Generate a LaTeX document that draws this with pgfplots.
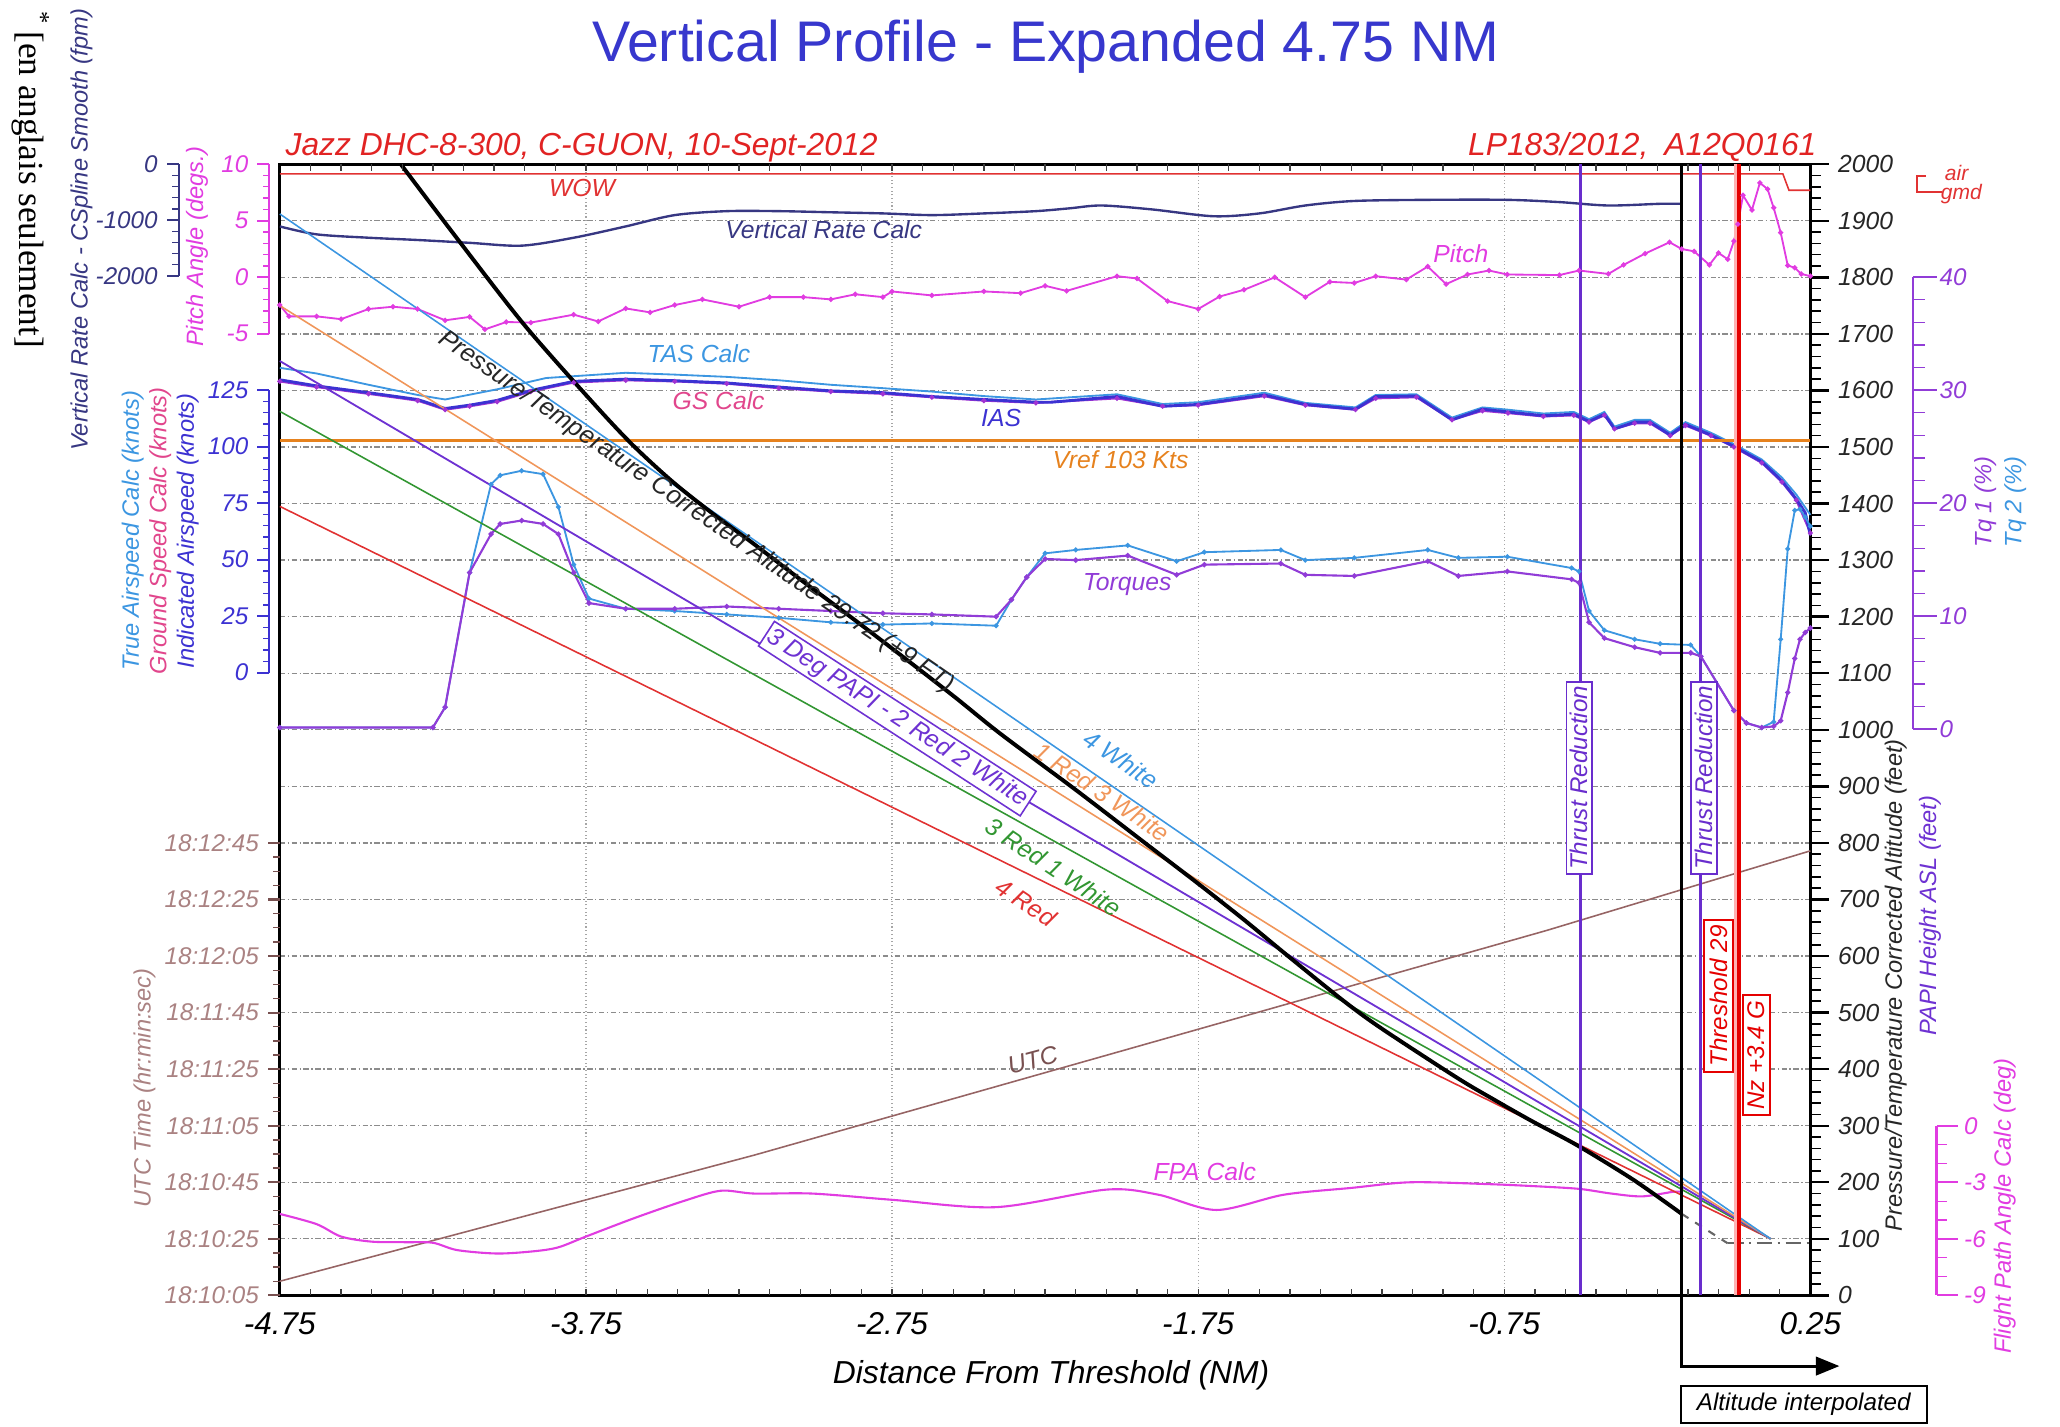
\documentclass[border=0pt]{standalone}
\usepackage{pgfplots}
\pgfplotsset{compat=1.18}
\usepackage{pgfplotstable}
\usepackage{fontspec}
\setmainfont{Liberation Sans}
\newfontfamily\serifft{Liberation Serif}
\usetikzlibrary{arrows.meta}

\definecolor{ttl}{RGB}{55,55,205}
\definecolor{sub}{RGB}{225,35,35}
\definecolor{vrc}{RGB}{55,55,130}
\definecolor{pit}{RGB}{225,60,225}
\definecolor{tas}{RGB}{60,150,225}
\definecolor{gsc}{RGB}{225,70,140}
\definecolor{ias}{RGB}{60,50,210}
\definecolor{gsl}{RGB}{160,50,210}
\definecolor{vref}{RGB}{230,130,30}
\definecolor{tqa}{RGB}{145,60,215}
\definecolor{tqb}{RGB}{60,150,225}
\definecolor{papw}{RGB}{60,150,225}
\definecolor{papo}{RGB}{240,150,90}
\definecolor{papp}{RGB}{110,50,210}
\definecolor{papg}{RGB}{50,150,50}
\definecolor{papr}{RGB}{225,50,50}
\definecolor{utc}{RGB}{150,100,100}
\definecolor{utct}{RGB}{170,130,130}
\definecolor{thr}{RGB}{105,45,205}
\definecolor{wow}{RGB}{225,50,50}

\newcommand\fs[1]{\fontsize{#1}{#1}\selectfont\itshape}

% speeds in knots
\pgfplotstableread{
x kt
-4.75 129.7
-4.63 127
-4.46 124
-4.30 121
-4.21 117
-4.13 118.5
-4.04 120.6
-3.93 125
-3.79 129
-3.62 130
-3.46 129.3
-3.29 128.3
-3.12 126.5
-2.95 124.8
-2.78 124
-2.62 122.3
-2.45 121
-2.28 119.8
-2.23 119.8
-2.015 122.3
-1.866 118
-1.75 118.8
-1.534 123
-1.40 118.8
-1.236 116.7
-1.170 122.3
-1.037 122.5
-0.921 112
-0.821 116.7
-0.738 115.5
-0.622 113.8
-0.523 114.5
-0.473 111.3
-0.423 114.5
-0.390 108
-0.324 111
-0.274 111
-0.208 105.3
-0.158 110
-0.075 105.3
0.0 100.3
0.091 93.5
0.157 85
0.204 77
0.233 71
0.25 61
}\tblias

\pgfplotstableread{
x kt
-4.75 129
-4.63 126.5
-4.46 123.5
-4.30 120.5
-4.21 116.5
-4.13 118
-4.04 120
-3.93 124.5
-3.79 128.5
-3.62 129.5
-3.46 129
-3.29 128
-3.12 126
-2.95 124.5
-2.78 123.5
-2.62 122
-2.45 120.5
-2.28 119.5
-2.015 121.5
-1.866 118
-1.75 118.5
-1.534 122.5
-1.40 118.5
-1.236 116.5
-1.17 121.5
-1.037 122
-0.921 112
-0.821 116
-0.738 115
-0.622 113.5
-0.523 114
-0.473 111
-0.423 114
-0.39 108
-0.324 110.5
-0.274 110.5
-0.208 105
-0.158 109.5
-0.075 105
0.0 100
0.091 93
0.157 84.5
0.204 76.5
0.25 62
}\tblgs

\pgfplotstableread{
x kt
-4.75 135
-4.63 132.5
-4.46 127.5
-4.30 123
-4.21 121
-4.04 125.5
-3.88 130.5
-3.62 132.8
-3.46 132
-3.29 131
-3.12 129.5
-2.95 127.5
-2.78 126
-2.62 124.5
-2.45 122.5
-2.28 121
-2.015 123.3
-1.866 119
-1.75 119.8
-1.534 124
-1.40 119.5
-1.236 117.5
-1.17 123
-1.037 123.3
-0.921 113
-0.821 117.5
-0.738 116.5
-0.622 114.8
-0.523 115.5
-0.473 112.3
-0.423 115.5
-0.39 109
-0.324 112
-0.274 112
-0.208 106.3
-0.158 111
-0.075 106.3
0.0 101.3
0.091 94.5
0.157 86.5
0.204 79
0.25 70
}\tbltas

% torques in percent
\pgfplotstableread{
x tqa tqb
-4.75 0.2 0.2
-4.25 0.2 0.2
-4.21 2.0 2.0
-4.13 13.9 13.9
-4.06 17.3 21.7
-4.03 18.2 22.5
-3.96 18.5 22.9
-3.89 18.2 22.6
-3.84 17.3 19.7
-3.79 13.9 14.6
-3.74 11.2 11.6
-3.62 10.7 10.7
-3.46 10.7 10.5
-3.29 10.9 10.2
-3.12 10.7 9.9
-2.95 10.5 9.5
-2.78 10.3 9.3
-2.62 10.2 9.4
-2.41 10.0 9.2
-2.36 11.5 11.5
-2.31 13.5 13.5
-2.25 15.1 15.6
-2.15 15.0 15.9
-1.98 15.4 16.3
-1.82 13.7 14.9
-1.73 14.6 15.7
-1.48 14.7 15.9
-1.40 13.7 15.0
-1.24 13.6 15.2
-1.00 14.9 15.9
-0.90 13.6 15.2
-0.74 14.0 15.3
-0.53 13.3 14.3
-0.506 13.0 14.0
-0.473 9.5 10.5
-0.423 8.1 8.8
-0.324 7.3 8.0
-0.241 6.8 7.6
-0.141 6.8 7.5
-0.108 6.5 6.5
0.0 1.7 1.7
0.041 0.6 0.6
0.091 0.2 0.2
0.13 0.3 0.7
0.153 0.8 8.0
0.176 3.3 16.0
0.199 6.3 19.4
0.216 8.0 19.5
0.233 8.6 18.8
0.25 9.0 18.0
}\tbltq

% pitch in degrees
\pgfplotstableread{
x p
-4.75 -2.45
-4.72 -3.45
-4.63 -3.45
-4.55 -3.7
-4.46 -2.8
-4.38 -2.6
-4.30 -2.8
-4.21 -3.8
-4.13 -3.5
-4.08 -4.6
-4.01 -3.95
-3.93 -4.0
-3.79 -3.3
-3.71 -3.9
-3.62 -2.75
-3.54 -3.1
-3.46 -2.45
-3.37 -1.95
-3.25 -2.6
-3.15 -1.75
-3.04 -1.75
-2.95 -1.95
-2.87 -1.5
-2.78 -1.75
-2.75 -1.25
-2.62 -1.6
-2.45 -1.25
-2.33 -1.4
-2.25 -0.75
-2.18 -1.2
-2.015 0.1
-1.95 -0.1
-1.85 -2.1
-1.75 -2.8
-1.68 -1.7
-1.60 -1.1
-1.50 0.0
-1.40 -1.75
-1.32 -0.4
-1.24 -0.5
-1.17 0.1
-1.07 -0.2
-1.00 0.95
-0.94 -0.6
-0.87 0.25
-0.80 0.6
-0.74 0.25
-0.57 0.2
-0.506 0.6
-0.41 0.3
-0.36 1.1
-0.29 2.1
-0.21 3.1
-0.17 2.5
-0.13 2.3
-0.08 1.1
-0.05 2.15
-0.02 1.6
0.0 3.2
0.013 4.7
0.03 7.25
0.059 5.95
0.085 8.35
0.11 7.8
0.13 6.15
0.153 3.95
0.176 1.05
0.199 0.85
0.22 0.3
0.25 0.1
}\tblpitch

% vertical rate in fpm
\pgfplotstableread{
x vr
-4.75 -1100
-4.63 -1240
-4.46 -1300
-4.30 -1340
-4.13 -1390
-3.96 -1440
-3.79 -1300
-3.62 -1100
-3.46 -900
-3.29 -830
-3.12 -830
-2.95 -850
-2.78 -870
-2.62 -900
-2.45 -870
-2.28 -830
-2.17 -780
-2.065 -730
-1.90 -800
-1.70 -920
-1.55 -870
-1.40 -730
-1.24 -650
-1.00 -630
-0.74 -630
-0.57 -670
-0.41 -730
-0.24 -700
-0.17 -700
}\tblvr

% corrected altitude in feet
\pgfplotstableread{
x alt
-4.355 2000
-4.16 1861
-3.95 1715
-3.73 1580
-3.60 1505
-3.47 1440
-3.34 1384
-3.205 1330
-3.05 1266
-2.874 1195
-2.70 1123
-2.543 1057
-2.396 993
-2.148 893
-1.924 800
-1.75 728
-1.60 664
-1.452 598
-1.278 522
-1.154 473
-0.905 385
-0.78 345
-0.656 307
-0.514 266
-0.33 205
-0.17 144
}\tblalt

% flight path angle in degrees
\pgfplotstableread{
x fpa
-4.75 -4.68
-4.63 -5.22
-4.55 -5.88
-4.45 -6.15
-4.34 -6.18
-4.25 -6.21
-4.17 -6.6
-4.04 -6.78
-3.92 -6.66
-3.84 -6.45
-3.75 -5.88
-3.59 -4.89
-3.43 -3.99
-3.31 -3.45
-3.20 -3.6
-3.01 -3.6
-2.75 -3.93
-2.41 -4.32
-2.05 -3.39
-1.88 -3.66
-1.69 -4.47
-1.47 -3.66
-1.25 -3.3
-1.056 -3.0
-0.80 -3.1
-0.613 -3.24
-0.50 -3.36
-0.40 -3.6
-0.30 -3.75
-0.20 -3.51
-0.17 -3.51
}\tblfpa

% UTC, seconds after 18:10:05
\pgfplotstableread{
x s
-4.75 5
-3.20 49.6
-0.613 129
0.25 157.2
}\tblutc

\begin{document}
\begin{tikzpicture}
\useasboundingbox (-106.5pt,-50pt) rectangle (677.5pt,493pt);
\begin{axis}[
  at={(0pt,0pt)}, anchor=south west,
  width=582.5pt, height=430.5pt, scale only axis,
  xmin=-4.75, xmax=0.25, ymin=0, ymax=2000,
  clip=false,
  axis line style={line width=1.1pt},
  xtick={-4.75,-3.75,-2.75,-1.75,-0.75,0.25},
  xticklabels={-4.75,-3.75,-2.75,-1.75,-0.75,0.25},
  xtick style={draw=none},
  x tick label style={font=\fs{12}, yshift=4pt},
  ytick={0,100,...,2000},
  minor y tick num=4,
  ytick pos=right, yticklabel pos=right,
  tick align=outside,
  major tick length=7pt, minor tick length=4pt,
  major tick style={line width=0.9pt, black},
  minor tick style={line width=0.6pt, black},
  y tick label style={font=\fs{9.4}, text=black!85},
  /pgf/number format/1000 sep={},
  /pgf/number format/assume math mode=true,
  xmajorgrids, ymajorgrids,
  x grid style={densely dotted, black!35, line width=0.5pt},
  y grid style={dash pattern=on 2pt off 1pt on 0.5pt off 1pt, black!45, line width=0.5pt},
]
% WOW
\addplot[wow, line width=0.6pt] coordinates {(-4.75,1983) (0.16,1983) (0.18,1954) (0.25,1954)};
% vertical rate
\addplot[vrc, line width=0.9pt, smooth] table[x=x, y expr={2000+\thisrow{vr}/10}] {\tblvr};
% pitch
\addplot[pit, line width=0.7pt, mark=*, mark size=0.6pt] table[x=x, y expr={1800+20*\thisrow{p}}] {\tblpitch};
% speeds
\addplot[tas, line width=0.7pt] table[x=x, y expr={1100+4*\thisrow{kt}}] {\tbltas};
\addplot[gsl, line width=0.8pt, mark=*, mark size=0.5pt] table[x=x, y expr={1100+4*\thisrow{kt}}] {\tblgs};
\addplot[ias, line width=1.1pt] table[x=x, y expr={1100+4*\thisrow{kt}}] {\tblias};
% Vref 103 kt
\addplot[vref, line width=1.3pt] coordinates {(-4.75,1512) (0.25,1512)};
% torques
\addplot[tqb, line width=0.7pt, mark=*, mark size=0.55pt] table[x=x, y expr={1000+20*\thisrow{tqb}}] {\tbltq};
\addplot[tqa, line width=0.8pt, mark=*, mark size=0.55pt] table[x=x, y expr={1000+20*\thisrow{tqa}}] {\tbltq};
% UTC
\addplot[utc, line width=0.6pt] table[x=x, y expr={5*\thisrow{s}}] {\tblutc};
% FPA
\addplot[pit, line width=0.8pt, smooth] table[x=x, y expr={300+100/3*\thisrow{fpa}}] {\tblfpa};
% PAPI lines
\addplot[papr, line width=0.6pt] coordinates {(-4.75,1395) (0.12,100)};
\addplot[papg, line width=0.6pt] coordinates {(-4.75,1563) (0.12,100)};
\addplot[papp, line width=0.7pt] coordinates {(-4.75,1652) (0.12,100)};
\addplot[papo, line width=0.6pt] coordinates {(-4.75,1750) (0.12,100)};
\addplot[papw, line width=0.6pt] coordinates {(-4.75,1912) (0.12,100)};
% altitude
\addplot[black, line width=1.5pt, smooth, tension=0.5] table[x=x, y=alt] {\tblalt};
\addplot[black!60, dashed, line width=0.8pt] coordinates {(-0.17,144) (-0.02,92)};
\addplot[black!60, dash pattern=on 6pt off 2pt on 1pt off 2pt, line width=0.8pt] coordinates {(-0.02,92) (0.25,92)};
% event lines
\addplot[thr, line width=1.1pt] coordinates {(-0.50,0) (-0.50,2000)};
\addplot[thr, line width=1.1pt] coordinates {(-0.11,0) (-0.11,2000)};
\addplot[red!30, line width=2.6pt] coordinates {(0.010,0) (0.010,2000)};
\addplot[red!90!black, line width=1.5pt] coordinates {(0.016,0) (0.016,2000)};
\addplot[black, line width=1.2pt, -{Triangle[length=9pt,width=7pt]}] coordinates {(-0.17,2000) (-0.17,-125) (0.345,-125)};
\end{axis}

\begin{scope}[x=0.5pt,y=-0.5pt,shift={(-106.5pt,493pt)}]
% minor x ticks
\foreach \i in {1,...,49} {
  \draw[black!75, line width=0.5pt] ({213+23.3*\i},986) -- ++(0,-5);
  \draw[black!75, line width=0.5pt] ({213+23.3*\i},125) -- ++(0,5);
}
% title and subtitles
\node[anchor=base, text=ttl, font=\fontsize{21.8}{22}\selectfont] at (796,47) {Vertical Profile - Expanded 4.75 NM};
\node[anchor=base west, text=sub, font=\fs{12.1}, inner sep=0pt] at (217,118) {Jazz DHC-8-300, C-GUON, 10-Sept-2012};
\node[anchor=base east, text=sub, font=\fs{12.1}, inner sep=0pt] at (1383,118) {LP183/2012,\enspace A12Q0161};
\node[font=\fs{12.1}] at (800,1047) {Distance From Threshold (NM)};
% side note
\node[rotate=-90, font=\serifft\fontsize{13.4}{14}\selectfont, inner sep=0pt] at (23,137) {\textsuperscript{*}\,[en anglais seulement]};

% VR axis
\draw[vrc, line width=0.8pt] (136,125) -- (136,210);
\foreach \k in {0,1,2} \draw[vrc, line width=0.8pt] (136,{125+42.5*\k}) -- (127,{125+42.5*\k});
\foreach \k in {1,2,3,4,6,7,8,9} \draw[vrc, line width=0.5pt] (136,{125+8.5*\k}) -- (131,{125+8.5*\k});
\node[anchor=east, text=vrc, font=\fs{9.2}] at (127,125) {0};
\node[anchor=east, text=vrc, font=\fs{9.2}] at (127,167.5) {-1000};
\node[anchor=east, text=vrc, font=\fs{9.2}] at (127,210) {-2000};
\node[rotate=90, text=vrc, font=\fs{9}] at (62,175) {Vertical Rate Calc - CSpline Smooth (fpm)};
% pitch axis
\draw[pit, line width=0.8pt] (205,125) -- (205,254);
\foreach \k in {0,1,2,3} \draw[pit, line width=0.8pt] (205,{125+43*\k}) -- (196,{125+43*\k});
\foreach \k in {1,...,14} \draw[pit, line width=0.5pt] (205,{125+8.6*\k}) -- (200,{125+8.6*\k});
\node[anchor=east, text=pit, font=\fs{9.2}] at (196,125) {10};
\node[anchor=east, text=pit, font=\fs{9.2}] at (196,168) {5};
\node[anchor=east, text=pit, font=\fs{9.2}] at (196,211) {0};
\node[anchor=east, text=pit, font=\fs{9.2}] at (196,254) {-5};
\node[rotate=90, text=pit, font=\fs{9}] at (150,188) {Pitch Angle (degs.)};
% speed axis
\draw[ias, line width=0.8pt] (205,297) -- (205,512);
\foreach \k in {0,...,5} \draw[ias, line width=0.8pt] (205,{512-43*\k}) -- (196,{512-43*\k});
\foreach \k in {1,...,24} \draw[ias, line width=0.5pt] (205,{512-8.6*\k}) -- (200,{512-8.6*\k});
\foreach \k/\l in {0/0,1/25,2/50,3/75,4/100,5/125} \node[anchor=east, text=ias, font=\fs{9.2}] at (196,{512-43*\k}) {\l};
\node[rotate=90, text=tas, font=\fs{9}] at (101,404) {True Airspeed Calc (knots)};
\node[rotate=90, text=gsc, font=\fs{9}] at (122,404) {Ground Speed Calc (knots)};
\node[rotate=90, text=ias, font=\fs{9}] at (143,404) {Indicated Airspeed (knots)};
% UTC axis
\foreach \k/\l in {0/18:10:05,1/18:10:25,2/18:10:45,3/18:11:05,4/18:11:25,5/18:11:45,6/18:12:05,7/18:12:25,8/18:12:45} {
  \draw[utc!80!black, line width=0.8pt] (213,{986-43.05*\k}) -- (204,{986-43.05*\k});
  \node[anchor=east, text=utct, font=\fs{9.2}] at (204,{986-43.05*\k}) {\l};
}
\foreach \k in {1,...,32} \draw[utc!80!black, line width=0.5pt] (213,{986-10.76*\k}) -- (208,{986-10.76*\k});
\node[rotate=90, text=utct, font=\fs{9}] at (110,828) {UTC Time (hr:min:sec)};

% air / gmd
\draw[wow, line width=0.7pt] (1466,134) -- (1459,134) -- (1459,146) -- (1478,146);
\node[anchor=west, text=wow, font=\fs{8}, inner sep=0pt] at (1480,132) {air};
\node[anchor=west, text=wow, font=\fs{8}, inner sep=0pt] at (1477,148) {gmd};
% Tq axis
\draw[tqa, line width=0.8pt] (1456,211) -- (1456,555);
\foreach \k/\l in {0/0,1/10,2/20,3/30,4/40} {
  \draw[tqa, line width=0.8pt] (1456,{555-86*\k}) -- (1474,{555-86*\k});
  \node[anchor=west, text=tqa, font=\fs{9.2}, inner sep=1pt] at (1474,{555-86*\k}) {\l};
}
\foreach \k in {1,...,19} \draw[tqa, line width=0.5pt] (1456,{555-17.2*\k}) -- (1465,{555-17.2*\k});
\node[rotate=90, text=tqa, font=\fs{9}] at (1511,382) {Tq 1 (\%)};
\node[rotate=90, text=tqb, font=\fs{9}] at (1534,382) {Tq 2 (\%)};
% right labels
\node[rotate=90, text=black!85, font=\fs{9}] at (1443,750) {Pressure/Temperature Corrected Altitude (feet)};
\node[rotate=90, text=papp, font=\fs{9}] at (1469,697) {PAPI Height ASL (feet)};
% FPA axis
\draw[pit, line width=0.8pt] (1474,857) -- (1474,986);
\foreach \k/\l in {0/0,1/-3,2/-6,3/-9} {
  \draw[pit, line width=0.8pt] (1474,{857+43*\k}) -- (1490,{857+43*\k});
  \node[anchor=west, text=pit, font=\fs{9.2}] at (1488,{857+43*\k}) {\l};
}
\foreach \k in {1,...,8} \draw[pit, line width=0.5pt] (1474,{857+14.33*\k}) -- (1482,{857+14.33*\k});
\node[rotate=90, text=pit, font=\fs{9}] at (1526,918) {Flight Path Angle Calc (deg)};

% in-plot labels
\node[text=wow, font=\fs{9.4}] at (443,143) {WOW};
\node[text=vrc, font=\fs{9.4}] at (627,175) {Vertical Rate Calc};
\node[text=pit, font=\fs{9.4}] at (1112,193) {Pitch};
\node[text=tas, font=\fs{9.4}] at (532,269) {TAS Calc};
\node[text=gsc, font=\fs{9.4}] at (547,305) {GS Calc};
\node[text=ias, font=\fs{9.4}] at (762,318) {IAS};
\node[text=vref, font=\fs{9.4}] at (853,350) {Vref 103 Kts};
\node[text=tqa, font=\fs{9.4}] at (858,445) {Torques};
\node[text=utc!80!black, font=\fs{9.4}, rotate=15] at (786,807) {UTC};
\node[text=pit, font=\fs{9.4}] at (917,892) {FPA Calc};
\node[text=papw, font=\fs{9.4}, rotate=-34] at (853,578) {4 White};
\node[text=papo, font=\fs{9.4}, rotate=-34] at (839,603) {1 Red 3 White};
\node[text=papp, font=\fs{9.4}, rotate=-33, draw=papp, fill=white, inner sep=1.2pt, line width=0.6pt] at (683,547) {3 Deg PAPI - 2 Red 2 White};
\node[text=papg, font=\fs{9.4}, rotate=-34] at (802,660) {3 Red 1 White};
\node[text=papr, font=\fs{9.4}, rotate=-34] at (781,687) {4 Red};
\node[text=black!85, font=\fs{9.6}, rotate=-34.5] at (530,390) {Pressure/Temperature Corrected Altitude 29.72 (+9 FT)};
% event boxes
\node[rotate=90, draw=thr, fill=white, text=thr, font=\fs{9.2}, inner sep=1.5pt, line width=0.6pt] at (1202,592) {Thrust Reduction};
\node[rotate=90, draw=thr, fill=white, text=thr, font=\fs{9.2}, inner sep=1.5pt, line width=0.6pt] at (1297,592) {Thrust Reduction};
\node[rotate=90, draw=red!90!black, fill=white, text=red!90!black, font=\fs{9.2}, inner sep=2pt, line width=0.8pt] at (1308,758) {Threshold 29};
\node[rotate=90, draw=red!90!black, fill=white, text=red!90!black, font=\fs{9.2}, inner sep=2pt, line width=0.8pt] at (1337,803) {Nz +3.4 G};
\node[draw=black, line width=0.8pt, font=\fs{9.2}, minimum width=93.5pt, minimum height=14pt, inner sep=1pt] at (1373,1069) {Altitude interpolated};
\end{scope}
\end{tikzpicture}
\end{document}
